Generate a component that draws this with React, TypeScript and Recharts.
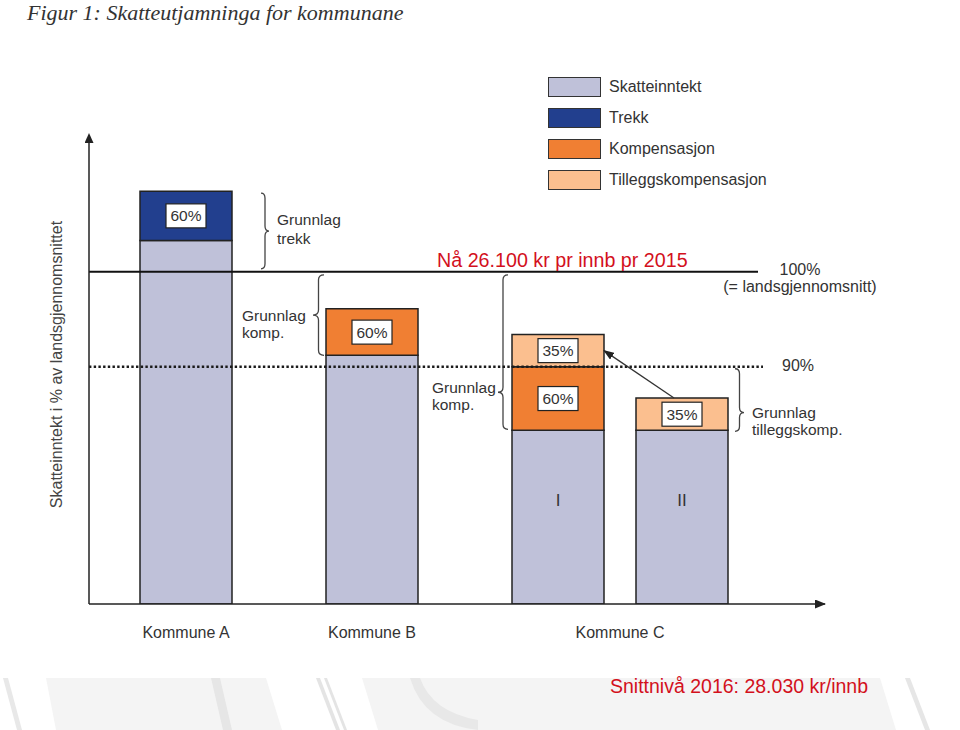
import React from 'react';
import { BarChart, Bar, XAxis, YAxis, ReferenceLine, ReferenceArea, Legend, LabelList } from 'recharts';

// stolpane: Kommune A, Kommune B og Kommune C (tilfelle I og II)
const kommunar = ['Kommune A', 'Kommune B', 'Kommune C', 'Kommune C'];
const stolpenamn = ['', '', 'I', 'II'];
// skatteinntekt i % av landsgjennomsnittet (skisse, lese av figuren)
const skatteinntekt = [103.3, 91.2, 83.3, 83.3];
const trekk = [5.2, 0, 0, 0];
const kompensasjon = [0, 4.9, 6.7, 0];
const tilleggskompensasjon = [0, 0, 3.4, 3.4];
const trekkSats = ['60%', '', '', ''];
const kompSats = ['', '60%', '60%', ''];
const tilleggSats = ['', '', '35%', '35%'];

const serienamn = ['Skatteinntekt', 'Trekk', 'Kompensasjon', 'Tilleggskompensasjon'];
const landssnitt = 100;
const tilleggsgrense = 90;
const yDomain = [65, 114];

const farger = ['#bfc1d9', '#223f8e', '#f07f33', '#fbbf8f'];
const tekstfarge = '#333';
const raud = '#d3101c';
const font = '"Liberation Sans", Arial, sans-serif';

// plass langs x-aksen, C I og C II står tettare saman
const plass = [1, 4, 7, 9];

const data = kommunar.map((k, i) => ({
  plass: plass[i],
  kommune: k,
  namn: stolpenamn[i],
  skatt: skatteinntekt[i],
  trekk: trekk[i],
  komp: kompensasjon[i],
  tillegg: tilleggskompensasjon[i],
  trekkSats: trekkSats[i],
  kompSats: kompSats[i],
  tilleggSats: tilleggSats[i],
}));

const kommuneTicks = Array.from(new Set(kommunar)).map((k) => {
  const p = plass.filter((_, i) => kommunar[i] === k);
  return { k, pos: p.reduce((a, b) => a + b, 0) / p.length };
});

const topp = (i: number) => skatteinntekt[i] + trekk[i] + kompensasjon[i] + tilleggskompensasjon[i];

const boks = (vb: any) => {
  const h = Math.abs(vb.height);
  const y = vb.height < 0 ? vb.y + vb.height : vb.y;
  return { cx: vb.x + vb.width / 2, y, h };
};

const tekstAv = (props: any, key: string) => {
  if (typeof props.value === 'string') return props.value;
  const p = props.payload || (props.entry && props.entry.payload);
  return p ? p[key] : '';
};

const boksLabel = (key: string) => (props: any) => {
  const vb = props.viewBox || props;
  const t = tekstAv(props, key);
  if (!t || !vb.height) return null;
  const { cx, y, h } = boks(vb);
  const cy = y + h / 2;
  return (
    <g>
      <rect x={cx - 20} y={cy - 12} width={40} height={24} fill="#fff" stroke="#222" strokeWidth={1.2} />
      <text x={cx} y={cy + 5.5} textAnchor="middle" fontSize={15.5} fill={tekstfarge}>{t}</text>
    </g>
  );
};

const stolpeLabel = (props: any) => {
  const vb = props.viewBox || props;
  const t = tekstAv(props, 'namn');
  if (!t) return null;
  const { cx, y } = boks(vb);
  return <text x={cx} y={y + 76} textAnchor="middle" fontSize={17} fill={tekstfarge}>{t}</text>;
};

const klammeSti = (xBase: number, xTipp: number, y1: number, y2: number, tippY: number) => {
  const m = (xBase + xTipp) / 2;
  const r = 5;
  return `M${xBase},${y1} Q${m},${y1} ${m},${y1 + r} L${m},${tippY - r} Q${m},${tippY} ${xTipp},${tippY} ` +
    `Q${m},${tippY} ${m},${tippY + r} L${m},${y2 - r} Q${m},${y2} ${xBase},${y2}`;
};

// klammer med forklaring: side 1 = høgre for stolpen, -1 = venstre
const klammer = [
  { i: 0, fra: landssnitt, til: topp(0), side: 1, gap: 29, djup: 8, tekstX: 45, inn: [2, 3], frac: 0.5, dy: [-6, 13], tekst: ['Grunnlag', 'trekk'] },
  { i: 1, fra: skatteinntekt[1], til: landssnitt, side: -1, gap: 2, djup: 11, tekstX: 84, inn: [3, 0], frac: 0.5, dy: [6, 23], tekst: ['Grunnlag', 'komp.'] },
  { i: 2, fra: skatteinntekt[2], til: landssnitt, side: -1, gap: 4, djup: 10, tekstX: 80, inn: [3, 1], frac: 0.76, dy: [1, 18], tekst: ['Grunnlag', 'komp.'] },
  { i: 3, fra: skatteinntekt[3], til: tilleggsgrense, side: 1, gap: 7, djup: 9, tekstX: 24, inn: [2, -1], frac: 0.7, dy: [5, 22], tekst: ['Grunnlag', 'tilleggskomp.'] },
];

const klammeForm = (k: typeof klammer[number]) => (p: any) => {
  const cx = p.x + p.width / 2;
  const kant = cx + k.side * 46;
  const y1 = p.y + k.inn[0];
  const y2 = p.y + p.height - k.inn[1];
  const tippY = y1 + (y2 - y1) * k.frac;
  const xBase = kant + k.side * k.gap;
  const xTipp = xBase + k.side * k.djup;
  const tx = kant + k.side * k.tekstX;
  return (
    <g>
      <path d={klammeSti(xBase, xTipp, y1, y2, tippY)} fill="none" stroke="#444" strokeWidth={1.3} />
      <text x={tx} y={tippY + k.dy[0]} fontSize={15.5} fill={tekstfarge}>{k.tekst[0]}</text>
      <text x={tx} y={tippY + k.dy[1]} fontSize={15.5} fill={tekstfarge}>{k.tekst[1]}</text>
    </g>
  );
};

const KommuneTick = (props: any) => {
  const { x, y, payload } = props;
  const t = kommuneTicks.find((k) => k.pos === payload.value);
  return <text x={x} y={y + 26} textAnchor="middle" fontSize={16} fill={tekstfarge}>{t ? t.k : ''}</text>;
};

const YTittel = (props: any) => {
  const vb = props.viewBox || { x: 59, y: 139, width: 30, height: 465 };
  const x = vb.x + vb.width - 27;
  const y = vb.y + vb.height / 2 - 7;
  return (
    <text transform={`rotate(-90 ${x} ${y})`} x={x} y={y} textAnchor="middle" fontSize={16} fill="#444">
      Skatteinntekt i % av landsgjennomsnittet
    </text>
  );
};

const Forklaring = () => (
  <div style={{ fontFamily: font }}>
    {serienamn.map((n, i) => (
      <div key={n} style={{ display: 'flex', alignItems: 'center', height: 31 }}>
        <span style={{ width: 53, height: 20, background: farger[i], border: '1.5px solid #333', boxSizing: 'border-box' }} />
        <span style={{ marginLeft: 8, fontSize: 16, color: tekstfarge }}>{n}</span>
      </div>
    ))}
  </div>
);

const Bakgrunn = () => (
  <svg width={960} height={730} style={{ position: 'absolute', left: 0, top: 0 }}>
    <defs>
      <marker id="y-pil" viewBox="0 0 10 9" markerWidth={10} markerHeight={9} refX={4} refY={4.5} orient="auto-start-reverse" markerUnits="userSpaceOnUse">
        <path d="M0,0 L10,4.5 L0,9 z" fill="#222" />
      </marker>
      <marker id="x-pil" viewBox="0 0 11 9" markerWidth={11} markerHeight={9} refX={10} refY={4.5} orient="auto" markerUnits="userSpaceOnUse">
        <path d="M0,0 L11,4.5 L0,9 z" fill="#222" />
      </marker>
      <marker id="peikar" viewBox="0 0 11 8" markerWidth={11} markerHeight={8} refX={10} refY={4} orient="auto" markerUnits="userSpaceOnUse">
        <path d="M0,0 L11,4 L0,8 z" fill="#222" />
      </marker>
    </defs>
    <rect x={0} y={678} width={960} height={52} fill="#f4f4f4" />
    <polygon points="0,678 46,678 56,730 0,730" fill="#fff" />
    <polygon points="3,678 8,678 22,730 17,730" fill="#e8e8e8" />
    <polygon points="211,678 220,678 232,730 223,730" fill="#e6e6e6" />
    <polygon points="266,678 362,678 378,730 282,730" fill="#fff" />
    <polygon points="316,678 320,678 340,730 336,730" fill="#e4e4e4" />
    <polygon points="324,678 327,678 347,730 344,730" fill="#e4e4e4" />
    <path d="M410,678 L420,678 Q432,712 478,720 L478,730 Q424,724 410,678 z" fill="#e8e8e8" />
    <polygon points="880,678 960,678 960,730 896,730" fill="#fff" />
    <polygon points="905,678 910,678 930,730 925,730" fill="#e6e6e6" />
  </svg>
);

const Overlegg = () => (
  <svg width={960} height={730} style={{ position: 'absolute', left: 0, top: 0, pointerEvents: 'none' }}>
    <text x={27} y={20} fontFamily='"Liberation Serif", serif' fontStyle="italic" fontSize={22} fill="#333">
      Figur 1: Skatteutjamninga for kommunane
    </text>
    <text x={437} y={267} fontFamily={font} fontSize={19.7} fill={raud}>Nå 26.100 kr pr innb pr 2015</text>
    <text x={610} y={693} fontFamily={font} fontSize={19.5} fill={raud}>Snittnivå 2016: 28.030 kr/innb</text>
  </svg>
);

export default function App() {
  return (
    <div style={{ position: 'absolute', left: 0, top: 0, width: 960, height: 730, fontFamily: font, background: '#fff' }}>
      <Bakgrunn />
      <div style={{ position: 'absolute', left: 0, top: 0 }}>
        <BarChart width={960} height={730} data={data} margin={{ top: 139, right: 135, bottom: 86, left: 59 }}>
          <XAxis
            type="number"
            dataKey="plass"
            domain={[0, 11]}
            padding={{ left: 35, right: 19 }}
            ticks={kommuneTicks.map((t) => t.pos)}
            interval={0}
            tickLine={false}
            tick={<KommuneTick />}
            height={40}
            axisLine={{ stroke: '#222', strokeWidth: 1.5, markerEnd: 'url(#x-pil)' }}
          />
          <YAxis
            type="number"
            domain={yDomain}
            allowDataOverflow
            width={30}
            tick={false}
            tickLine={false}
            axisLine={{ stroke: '#222', strokeWidth: 1.5, markerStart: 'url(#y-pil)' }}
            label={{ content: YTittel }}
          />
          <Bar dataKey="skatt" stackId="k" name={serienamn[0]} fill={farger[0]} stroke="#222" strokeWidth={1.5} barSize={92} isAnimationActive={false}>
            <LabelList dataKey="namn" content={stolpeLabel} />
          </Bar>
          <Bar dataKey="trekk" stackId="k" name={serienamn[1]} fill={farger[1]} stroke="#222" strokeWidth={1.5} barSize={92} isAnimationActive={false}>
            <LabelList dataKey="trekkSats" content={boksLabel('trekkSats')} />
          </Bar>
          <Bar dataKey="komp" stackId="k" name={serienamn[2]} fill={farger[2]} stroke="#222" strokeWidth={1.5} barSize={92} isAnimationActive={false}>
            <LabelList dataKey="kompSats" content={boksLabel('kompSats')} />
          </Bar>
          <Bar dataKey="tillegg" stackId="k" name={serienamn[3]} fill={farger[3]} stroke="#222" strokeWidth={1.5} barSize={92} isAnimationActive={false}>
            <LabelList dataKey="tilleggSats" content={boksLabel('tilleggSats')} />
          </Bar>
          <ReferenceLine
            y={landssnitt}
            shape={(p: any) => (
              <g>
                <line x1={p.x1} y1={p.y1} x2={p.x2 - 67} y2={p.y2} stroke="#111" strokeWidth={2} />
                <text x={p.x2 - 25} y={p.y1 + 3} textAnchor="middle" fontSize={16} fill={tekstfarge}>100%</text>
                <text x={p.x2 - 25} y={p.y1 + 20} textAnchor="middle" fontSize={16} fill={tekstfarge}>(= landsgjennomsnitt)</text>
              </g>
            )}
          />
          <ReferenceLine
            y={tilleggsgrense}
            shape={(p: any) => (
              <g>
                <line x1={p.x1} y1={p.y1} x2={p.x2 - 62} y2={p.y2} stroke="#1a1a1a" strokeWidth={2.6} strokeDasharray="2.4 2.3" />
                <text x={p.x2 - 27} y={p.y1 + 4} textAnchor="middle" fontSize={16} fill={tekstfarge}>90%</text>
              </g>
            )}
          />
          {klammer.map((k) => (
            <ReferenceArea
              key={k.i}
              x1={plass[k.i] - 0.5}
              x2={plass[k.i] + 0.5}
              y1={k.fra}
              y2={k.til}
              shape={klammeForm(k)}
            />
          ))}
          <ReferenceLine
            segment={[
              { x: plass[3], y: topp(3) },
              { x: plass[2], y: skatteinntekt[2] + kompensasjon[2] + tilleggskompensasjon[2] / 2 },
            ]}
            shape={(p: any) => (
              <line x1={p.x1 - 8} y1={p.y1} x2={p.x2 + 46} y2={p.y2} stroke="#333" strokeWidth={1.3} markerEnd="url(#peikar)" />
            )}
          />
          <Legend
            layout="vertical"
            align="center"
            verticalAlign="middle"
            wrapperStyle={{ left: 548, top: 71, width: 260 }}
            content={<Forklaring />}
          />
        </BarChart>
      </div>
      <Overlegg />
    </div>
  );
}
